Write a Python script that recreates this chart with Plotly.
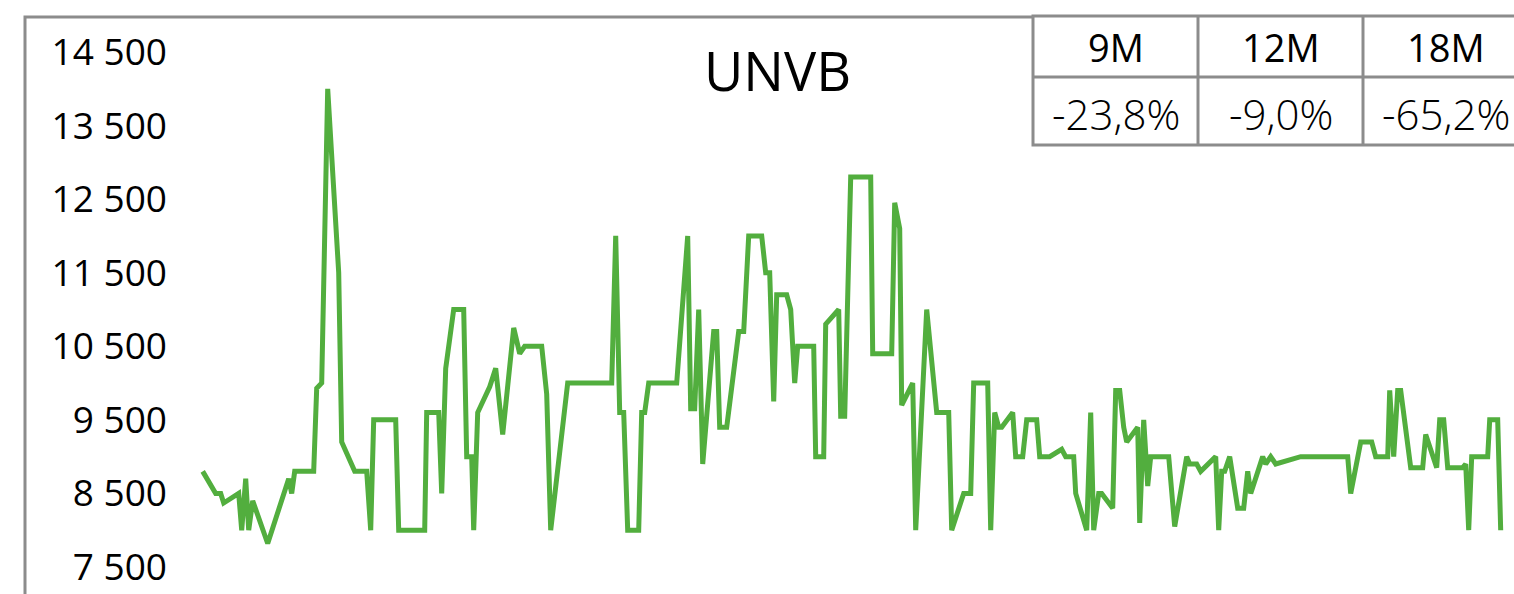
import plotly.graph_objects as go

# ---- data ----
t = [0,6.5,9,10.5,18,19.5,21.5,23,25,32.5,
     43,44.5,46,55.5,57,59.5,62.5,68,69.5,76,
     82,84,85.5,96.5,98,111,112,118,119.5,121.5,
     125.5,130.5,132,134.5,135.5,137.5,143.5,146.5,150,155.5,
     158.5,161,169.5,172,174,182.5,204.5,206.5,208.5,210.5,
     212.5,218,219.5,221,223,237,242.5,244,246,248,
     250,255.5,257,258.5,262,268,270.5,273,279.5,281.5,
     283.5,285.5,287,292,294,296,297.5,305.5,306.5,310.5,
     311.5,318,319,321,324,334,335,344.5,346,348.5,
     349.5,355,356.5,362,367,373,374.5,380.5,384,385.5,
     392.5,394,396,398,399.5,405,406.5,410,412,417,
     418.5,423.5,429.5,431.5,435.5,436.5,442,444,445.5,448,
     449.5,455,456.5,458.5,460.5,462,467.5,468.5,470.5,472.5,
     474,483,486,492,493.5,497,499,506.5,508,509.5,
     511,513.5,517.5,520.5,522.5,524,530,531.5,534,536.5,
     549,572.5,574,579,584.5,586.5,592.5,593.5,595.5,597.5,
     599,604,610,611.5,617,618.5,620.5,622.5,630,631.5,
     633,634.5,642.5,643.5,647.5,649]

price = [8800,8500,8500,8370,8500,8000,8700,8000,8400,7820,
         8700,8500,8800,8800,9930,10000,14000,11500,9200,8800,
         8800,8000,9500,9500,8000,8000,9600,9600,8500,10200,
         11000,11000,9000,9000,8000,9600,9950,10200,9300,10750,
         10400,10500,10500,9850,8000,10000,10000,12000,9600,9600,
         8000,8000,9600,9600,10000,10000,12000,9650,9650,11000,
         8900,10700,10700,9400,9400,10700,10700,12000,12000,11500,
         11500,9750,11200,11200,11000,10000,10500,10500,9000,9000,
         10800,11000,9550,9550,12800,12800,10400,10400,12450,12100,
         9700,10000,8000,11000,9600,9600,8000,8500,8500,10000,
         10000,8000,9600,9400,9400,9600,9000,9000,9500,9500,
         9000,9000,9100,9000,9000,8500,8000,9600,8000,8500,
         8500,8300,9900,9900,9400,9200,9400,8100,9500,8600,
         9000,9000,8050,9000,8900,8900,8800,9000,8000,8800,
         8800,9000,8300,8300,8800,8500,9000,8900,9000,8900,
         9000,9000,8500,9200,9200,9000,9000,9900,9000,9900,
         9900,8850,8850,9300,8850,9500,9500,8850,8850,8900,
         8000,9000,9000,9500,9500,8000]

assert len(t) == len(price)

tick_vals = [7500, 8500, 9500, 10500, 11500, 12500, 13500, 14500]
tick_text = ["7 500", "8 500", "9 500", "10 500", "11 500", "12 500", "13 500", "14 500"]

title_text = "UNVB"
periods = ["9M", "12M", "18M"]
returns = ["-23,8%", "-9,0%", "-65,2%"]

# ---- layout geometry ----
W, H = 1514, 594
ML, MR, MT, MB = 170, 0, 17, 0
PW, PH = W - ML - MR, H - MT - MB

def px(x):
    return (x - ML) / PW

def py(y):
    return (H - MB - y) / PH

GRAY = "#8c8c8c"
GREEN = "#52ae3e"
FONT = "Open Sans"

fig = go.Figure()
fig.add_trace(go.Scatter(
    x=t, y=price, mode="lines",
    line=dict(color=GREEN, width=5),
    hoverinfo="skip", showlegend=False,
))

shapes = []
# outer frame (continues past the visible page on the right and bottom)
shapes.append(dict(type="rect", xref="paper", yref="paper",
                   x0=px(25), x1=px(1560), y0=py(640), y1=py(17),
                   line=dict(color=GRAY, width=3), fillcolor="rgba(0,0,0,0)", layer="above"))
# table
tx0, tx1 = 1033, 1560
ty0, ty1, ty2 = 16, 77, 145
col_edges = [1033, 1198, 1363, 1528]
shapes.append(dict(type="rect", xref="paper", yref="paper",
                   x0=px(tx0), x1=px(tx1), y0=py(ty2), y1=py(ty0),
                   line=dict(color=GRAY, width=3), fillcolor="white", layer="above"))
shapes.append(dict(type="line", xref="paper", yref="paper",
                   x0=px(tx0), x1=px(tx1), y0=py(ty1), y1=py(ty1),
                   line=dict(color=GRAY, width=3), layer="above"))
for cx in col_edges[1:]:
    shapes.append(dict(type="line", xref="paper", yref="paper",
                       x0=px(cx), x1=px(cx), y0=py(ty2), y1=py(ty0),
                       line=dict(color=GRAY, width=3), layer="above"))

annotations = []
annotations.append(dict(text=title_text, xref="paper", yref="paper",
                        x=px(777), y=py(70), xanchor="center", yanchor="middle",
                        showarrow=False, font=dict(family=FONT, size=54, color="black")))
for i, (p, r) in enumerate(zip(periods, returns)):
    cx = (col_edges[i] + col_edges[i + 1]) / 2
    annotations.append(dict(text=p, xref="paper", yref="paper",
                            x=px(cx), y=py(47), xanchor="center", yanchor="middle",
                            showarrow=False, font=dict(family=FONT, size=38, color="black")))
    annotations.append(dict(text=r, xref="paper", yref="paper",
                            x=px(cx), y=py(113), xanchor="center", yanchor="middle",
                            showarrow=False, font=dict(family=FONT, size=42, color="black", weight=300)))

fig.update_layout(
    width=W, height=H,
    margin=dict(l=ML, r=MR, t=MT, b=MB, pad=0),
    paper_bgcolor="white", plot_bgcolor="white",
    shapes=shapes, annotations=annotations,
    xaxis=dict(range=[-16.35, 655.65], visible=False, showgrid=False, zeroline=False),
    yaxis=dict(range=[7133, 14975.7], tickvals=tick_vals, ticktext=tick_text,
               showgrid=False, zeroline=False, showline=False, ticks="",
               tickfont=dict(family=FONT, size=37, color="black"),
               ticklabelstandoff=2, ticklabeloverflow="allow"),
)

fig.write_html(
    "out.html",
    config={"displayModeBar": False},
    post_script="document.body.style.margin='0';document.body.style.overflow='hidden';",
)
